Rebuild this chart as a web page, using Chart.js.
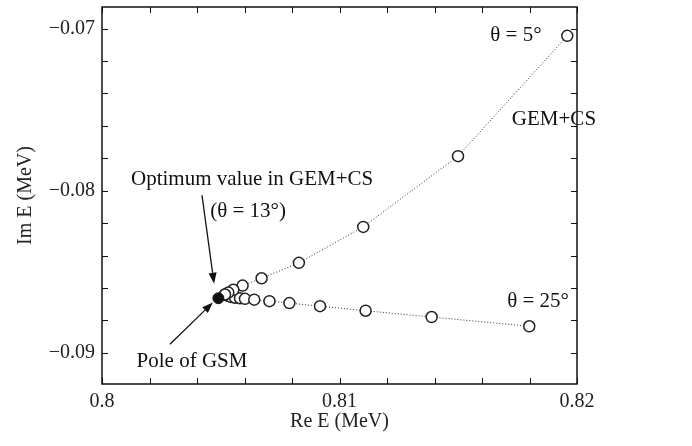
<!DOCTYPE html>
<html>
<head>
<meta charset="utf-8">
<script src="https://cdn.jsdelivr.net/npm/chart.js@4"></script>
<style>
  body { margin: 0; background: #fff; }
  #wrap { width: 692px; height: 446px; }
</style>
</head>
<body>
<div id="wrap"><canvas id="myChart"></canvas></div>
<script>
// theta = 5..13 deg (GEM+CS)
var upperRe = [0.81959, 0.81499, 0.81100, 0.80829, 0.80672, 0.80592, 0.80553, 0.80532, 0.80518];
var upperIm = [-0.07045, -0.07787, -0.08223, -0.08445, -0.08540, -0.08585, -0.08611, -0.08628, -0.08640];
// theta = 13..25 deg
var lowerRe = [0.80518, 0.80531, 0.80543, 0.80560, 0.80581, 0.80602, 0.80641, 0.80705, 0.80789, 0.80918, 0.81110, 0.81388, 0.81799];
var lowerIm = [-0.08640, -0.08649, -0.08655, -0.08660, -0.08663, -0.08667, -0.08672, -0.08681, -0.08693, -0.08712, -0.08740, -0.08779, -0.08836];
// pole of GSM
var poleRe = [0.80490];
var poleIm = [-0.08663];

var xTicks = [0.80, 0.81, 0.82];
var yTicks = [-0.07, -0.08, -0.09];

function pts(xs, ys) {
    return xs.map(function (x, i) { return {x: x, y: ys[i]}; });
}

var serif = '"Liberation Serif", "Times New Roman", serif';

// texts placed in data units
var notes = [
    {text: '\u03b8 = 5\u00b0', x: 0.81743, y: -0.07045},
    {text: 'GEM+CS', x: 0.81903, y: -0.07560},
    {text: '\u03b8 = 25\u00b0', x: 0.81836, y: -0.08683},
    {text: 'Optimum value in GEM+CS', x: 0.80632, y: -0.07928},
    {text: '(\u03b8 = 13\u00b0)', x: 0.80615, y: -0.08125},
    {text: 'Pole of GSM', x: 0.80379, y: -0.09051}
];
var arrows = [
    {x0: 0.80421, y0: -0.08028, x1: 0.80472, y1: -0.08574},
    {x0: 0.80286, y0: -0.08947, x1: 0.80467, y1: -0.08689}
];

var framePlugin = {
    id: 'frame',
    afterDraw: function (chart) {
        var c = chart.ctx, a = chart.chartArea;
        var xs = chart.scales.x, ys = chart.scales.y;
        c.save();
        c.strokeStyle = '#111';
        c.lineWidth = 1.5;
        c.strokeRect(a.left, a.top, a.right - a.left, a.bottom - a.top);
        c.lineWidth = 1;
        var v, p;
        for (v = 0.8; v <= 0.82 + 1e-9; v += 0.002) {
            p = Math.round(xs.getPixelForValue(v)) + 0.5;
            c.beginPath();
            c.moveTo(p, a.bottom); c.lineTo(p, a.bottom - 6);
            c.moveTo(p, a.top); c.lineTo(p, a.top + 6);
            c.stroke();
        }
        for (v = -0.092; v <= -0.068 + 1e-9; v += 0.002) {
            p = ys.getPixelForValue(v);
            if (p < a.top || p > a.bottom) continue;
            p = Math.round(p) + 0.5;
            c.beginPath();
            c.moveTo(a.left, p); c.lineTo(a.left + 6, p);
            c.moveTo(a.right, p); c.lineTo(a.right - 6, p);
            c.stroke();
        }
        // arrows
        c.strokeStyle = '#111';
        c.fillStyle = '#111';
        c.lineWidth = 1.3;
        arrows.forEach(function (ar) {
            var x0 = xs.getPixelForValue(ar.x0), y0 = ys.getPixelForValue(ar.y0);
            var x1 = xs.getPixelForValue(ar.x1), y1 = ys.getPixelForValue(ar.y1);
            var ang = Math.atan2(y1 - y0, x1 - x0);
            var L = 11, W = 4;
            var bx = x1 - L * Math.cos(ang), by = y1 - L * Math.sin(ang);
            c.beginPath();
            c.moveTo(x0, y0); c.lineTo(bx, by);
            c.stroke();
            c.beginPath();
            c.moveTo(x1, y1);
            c.lineTo(bx + W * Math.sin(ang), by - W * Math.cos(ang));
            c.lineTo(bx - W * Math.sin(ang), by + W * Math.cos(ang));
            c.closePath();
            c.fill();
        });
        // texts
        c.font = '21px ' + serif;
        c.textAlign = 'center';
        c.textBaseline = 'middle';
        notes.forEach(function (n) {
            c.fillText(n.text, xs.getPixelForValue(n.x), ys.getPixelForValue(n.y));
        });
        c.restore();
    }
};

var ctx = document.getElementById('myChart').getContext('2d');
var myChart = new Chart(ctx, {
    type: 'scatter',
    data: {
        datasets: [{
            label: 'pole',
            data: pts(poleRe, poleIm),
            pointRadius: 5.5,
            pointBackgroundColor: '#111',
            pointBorderColor: '#111',
            pointBorderWidth: 1,
            showLine: false
        }, {
            label: 'theta 5-13',
            data: pts(upperRe, upperIm),
            showLine: true,
            borderColor: '#333',
            borderWidth: 1,
            borderDash: [1, 2],
            pointRadius: 5.5,
            pointBackgroundColor: '#fff',
            pointBorderColor: '#222',
            pointBorderWidth: 1.5
        }, {
            label: 'theta 13-25',
            data: pts(lowerRe, lowerIm),
            showLine: true,
            borderColor: '#333',
            borderWidth: 1,
            borderDash: [1, 2],
            pointRadius: 5.5,
            pointBackgroundColor: '#fff',
            pointBorderColor: '#222',
            pointBorderWidth: 1.5
        }]
    },
    options: {
        responsive: true,
        maintainAspectRatio: false,
        animation: false,
        events: [],
        layout: { padding: { top: 5, right: 115, left: 0, bottom: 0 } },
        plugins: {
            legend: { display: false },
            tooltip: { enabled: false }
        },
        scales: {
            x: {
                type: 'linear',
                min: 0.8,
                max: 0.82,
                grid: { display: false, drawTicks: false },
                border: { display: false },
                afterBuildTicks: function (s) { s.ticks = xTicks.map(function (v) { return {value: v}; }); },
                afterFit: function (s) { s.height = 62; s.paddingLeft = 0; s.paddingRight = 0; },
                ticks: {
                    padding: 6,
                    maxRotation: 0,
                    color: '#222',
                    font: { family: serif, size: 20 },
                    callback: function (v) { return String(+v.toFixed(3)); }
                },
                title: {
                    display: true,
                    text: 'Re E (MeV)',
                    color: '#222',
                    font: { family: serif, size: 20 },
                    padding: { top: 0, bottom: 12 }
                }
            },
            y: {
                type: 'linear',
                min: -0.09192,
                max: -0.06867,
                grid: { display: false, drawTicks: false },
                border: { display: false },
                afterBuildTicks: function (s) { s.ticks = yTicks.map(function (v) { return {value: v}; }); },
                afterFit: function (s) { s.width = 102; s.paddingTop = 0; s.paddingBottom = 0; },
                ticks: {
                    padding: 7,
                    color: '#222',
                    font: { family: serif, size: 20 },
                    callback: function (v) { return '\u2212' + String(+Math.abs(v).toFixed(3)); }
                },
                title: {
                    display: true,
                    text: 'Im E (MeV)',
                    color: '#222',
                    font: { family: serif, size: 20 },
                    padding: { top: 14, bottom: 0 }
                }
            }
        }
    },
    plugins: [framePlugin]
});
</script>
</body>
</html>
